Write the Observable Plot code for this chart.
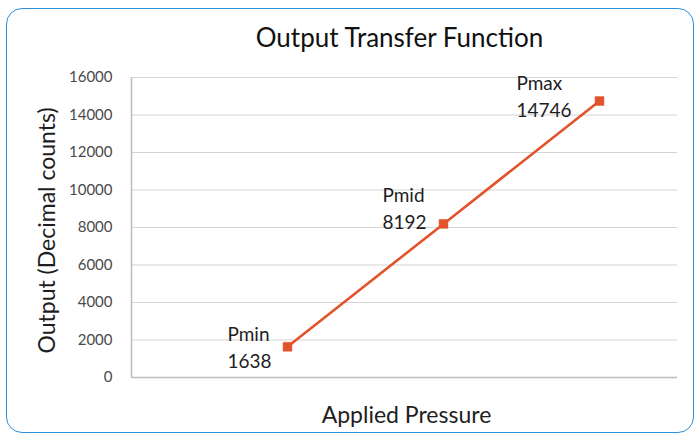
<!DOCTYPE html>
<html>
<head>
<meta charset="utf-8">
<script src="https://cdn.jsdelivr.net/npm/d3@7"></script>
<script src="https://cdn.jsdelivr.net/npm/@observablehq/plot@0.6"></script>
<style>
  html, body { margin: 0; padding: 0; background: #ffffff; }
  #wrap { position: relative; width: 697px; height: 434px; overflow: hidden; font-family: Lato, "Open Sans", sans-serif; }
  #frame { position: absolute; left: 6px; top: 8px; width: 688px; height: 425px; box-sizing: border-box;
           border: 1.5px solid #2f8fd8; border-radius: 16px; }
  #chart { position: absolute; left: 0; top: 0; }
</style>
</head>
<body>
<div id="wrap"><div id="frame"></div><div id="chart"></div></div>
<script>
// ---- data ----
const pointNames = ["Pmin", "Pmid", "Pmax"];
const pressureIndex = [1, 2, 3];
const outputCounts = [1638, 8192, 14746];
const yTicks = [0, 2000, 4000, 6000, 8000, 10000, 12000, 14000, 16000];
const chartTitle = "Output Transfer Function";
const xTitle = "Applied Pressure";
const yTitle = "Output (Decimal counts)";

const data = pointNames.map((n, i) => ({name: n, x: pressureIndex[i], y: outputCounts[i]}));
const lineColor = "#e2532b";
const labelText = d => `${d.name}\n${d.y}`;
const labelStyle = {x: "x", y: "y", text: labelText, textAnchor: "start", lineAnchor: "middle",
                    lineHeight: 1.42, fontSize: 19, fill: "#1e1e1e"};

const plot = Plot.plot({
  width: 697,
  height: 434,
  marginLeft: 131,
  marginRight: 20,
  marginTop: 77,
  marginBottom: 57,
  style: {fontFamily: "Lato, 'Open Sans', sans-serif", background: "transparent", overflow: "visible"},
  x: {domain: [0, 3.5], axis: null},
  y: {domain: [0, 16000], axis: null},
  marks: [
    Plot.ruleY(yTicks.filter(t => t > 0), {stroke: "#d4d4d4", strokeWidth: 1.2}),
    Plot.ruleX([0], {y1: 0, y2: 16000, stroke: "#bdbdbd", strokeWidth: 1.5}),
    Plot.ruleY([0], {stroke: "#bdbdbd", strokeWidth: 1.5}),
    Plot.axisY(yTicks, {tickSize: 0, tickPadding: 19, fontSize: 15, fill: "#4a4a4a", label: null, tickFormat: d => String(d)}),
    Plot.line(data, {x: "x", y: "y", stroke: lineColor, strokeWidth: 2.6}),
    Plot.dot(data, {x: "x", y: "y", symbol: "square", r: 5, fill: lineColor, stroke: lineColor, strokeWidth: 0.5}),
    Plot.text(data.filter(d => d.name === "Pmin"), {...labelStyle, dx: -60, dy: -1}),
    Plot.text(data.filter(d => d.name === "Pmid"), {...labelStyle, dx: -61, dy: -17}),
    Plot.text(data.filter(d => d.name === "Pmax"), {...labelStyle, dx: -83, dy: -6}),
    Plot.text([chartTitle], {frameAnchor: "top", textAnchor: "middle", lineAnchor: "middle", dy: -39, dx: -5, fontSize: 26, fill: "#111111"}),
    Plot.text([yTitle], {frameAnchor: "left", textAnchor: "middle", lineAnchor: "middle", rotate: -90, dx: -84, dy: 3, fontSize: 23, fill: "#1e1e1e"}),
    Plot.text([xTitle], {frameAnchor: "bottom", textAnchor: "middle", lineAnchor: "middle", dy: 38, dx: 2, fontSize: 23, fill: "#1e1e1e"})
  ]
});
document.getElementById("chart").appendChild(plot);
</script>
</body>
</html>
